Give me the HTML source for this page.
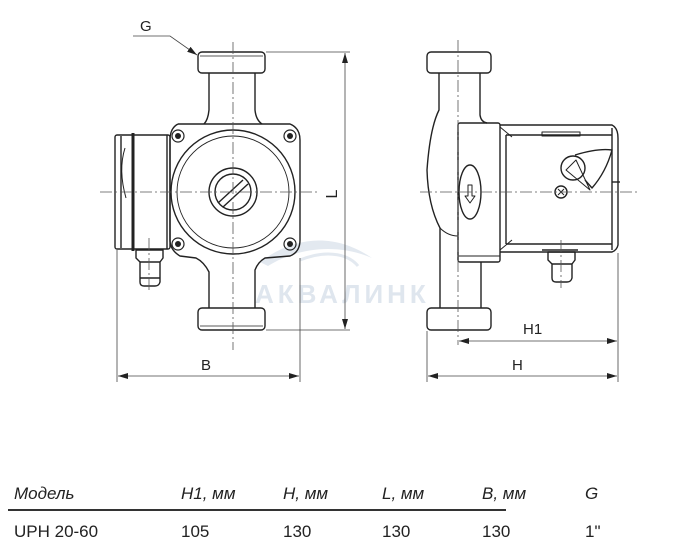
<!DOCTYPE html>
<html><head><meta charset="utf-8"><style>
html,body{margin:0;padding:0;background:#fff;}
svg{display:block;}
text{font-family:"Liberation Sans","DejaVu Sans",sans-serif;}
</style></head><body>
<svg width="700" height="548" viewBox="0 0 700 548" xmlns="http://www.w3.org/2000/svg">
<defs>
<marker id="a" viewBox="0 0 10 6" refX="10" refY="3" markerWidth="10" markerHeight="6" orient="auto-start-reverse" markerUnits="userSpaceOnUse"><path d="M0,0 L10,3 L0,6 Z" fill="#222"/></marker>
</defs>
<!-- watermark -->
<path d="M260,262 C300,232 340,236 372,258 C340,244 300,246 268,266 Z" fill="#e3e9f0"/>
<path d="M300,260 C330,248 350,256 358,266" fill="none" stroke="#e3e9f0" stroke-width="3"/>
<text x="255" y="303" font-size="26" font-weight="bold" fill="#dfe6ee" letter-spacing="4">АКВАЛИНК</text>

<g fill="none" stroke="#222" stroke-width="1.4" stroke-linejoin="round">
<!-- LEFT VIEW -->
<rect x="198" y="52" width="67" height="21" rx="4"/>
<line x1="200" y1="56" x2="263" y2="56" stroke-width="0.8"/>
<path d="M209,73 L209,110 Q208,120 204,124 M255,73 L255,110 Q256,120 262,124"/>
<path d="M178,124 L290,124 Q300,128 300,140 L300,240 Q300,252 290,256 L265,258 Q258,262 255,270 L255,308"/>
<path d="M178,124 Q170,128 170,140 L170,240 Q170,250 180,256 L196,258 Q204,262 209,272 L209,308"/>
<circle cx="233" cy="192" r="62"/>
<circle cx="233" cy="192" r="56" stroke-width="0.9"/>
<circle cx="233" cy="192" r="24"/>
<circle cx="233" cy="192" r="18"/>
<line x1="218" y1="203" x2="243" y2="180"/><line x1="223" y1="207" x2="248" y2="184"/>
<g stroke-width="1.2"><circle cx="178" cy="136" r="6"/><circle cx="290" cy="136" r="6"/><circle cx="178" cy="244" r="6"/><circle cx="290" cy="244" r="6"/></g>
<g fill="#222" stroke="none"><circle cx="178" cy="136" r="3"/><circle cx="290" cy="136" r="3"/><circle cx="178" cy="244" r="3"/><circle cx="290" cy="244" r="3"/></g>
<rect x="198" y="308" width="67" height="22" rx="4"/>
<line x1="200" y1="326" x2="263" y2="326" stroke-width="0.8"/>
<!-- terminal box -->
<rect x="115" y="135" width="55" height="114" rx="2"/>
<line x1="121" y1="136" x2="121" y2="248"/>
<line x1="133" y1="133" x2="133" y2="251" stroke-width="3"/>
<line x1="167" y1="135" x2="167" y2="249"/>
<path d="M125,148 Q118,170 126,198" stroke-width="1"/>
<path d="M136,250 L163,250 L163,258 L160,262 L160,282 Q159,286 155,286 L144,286 Q140,286 140,282 L140,262 L136,258 Z"/>
<line x1="140" y1="262" x2="160" y2="262"/><line x1="140" y1="278" x2="160" y2="278"/>

<!-- RIGHT VIEW -->
<rect x="427" y="52" width="64" height="21" rx="4"/>
<path d="M439,73 L439,110 Q430,128 427,170 Q428,205 440,228 L440,308 M480,73 L480,115 Q481,122 487,123"/>
<path d="M440,228 Q448,236 458,236" stroke-width="1"/>
<line x1="481" y1="262" x2="481" y2="308"/>
<rect x="458" y="123" width="42" height="139" rx="2"/>
<line x1="458" y1="256" x2="500" y2="256" stroke-width="1"/>
<ellipse cx="470" cy="192" rx="11" ry="27"/>
<path d="M468,185 L468,196 L465,196 L470,203 L475,196 L472,196 L472,185 Z" stroke-width="1"/>
<path d="M500,125 L612,125 Q618,128 618,138 L618,245 Q617,250 612,252 L500,252"/>
<line x1="506" y1="135" x2="506" y2="244"/>
<line x1="506" y1="135" x2="612" y2="135"/><line x1="506" y1="244" x2="612" y2="244"/>
<line x1="612" y1="128" x2="612" y2="250"/>
<path d="M500,127 L512,137 M500,250 L512,240" stroke-width="1"/>
<rect x="542" y="132" width="38" height="4" stroke-width="1"/>
<circle cx="573" cy="168" r="12"/>
<path d="M575,155 Q598,148 612,150 Q606,172 592,188 L585,180" />
<path d="M566,170 L576,160 L590,190 Z" stroke-width="1"/>
<line x1="612" y1="182" x2="620" y2="182"/>
<circle cx="561" cy="192" r="6"/>
<path d="M558,189 L564,195 M564,189 L558,195" stroke-width="1"/>
<line x1="542" y1="250" x2="578" y2="250"/>
<path d="M548,252 L575,252 L575,260 L572,264 L572,278 Q571,282 567,282 L556,282 Q552,282 552,278 L552,264 L548,260 Z"/>
<line x1="552" y1="264" x2="572" y2="264"/>
<rect x="427" y="308" width="64" height="22" rx="4"/>
</g>

<!-- centerlines -->
<g stroke="#555" stroke-width="0.8" stroke-dasharray="12,3,2,3" fill="none">
<line x1="100" y1="192" x2="320" y2="192"/>
<line x1="233" y1="42" x2="233" y2="350"/>
<line x1="420" y1="192" x2="640" y2="192"/>
<line x1="458" y1="40" x2="458" y2="345"/>
<line x1="149" y1="238" x2="149" y2="290"/>
<line x1="561" y1="240" x2="561" y2="288"/>
</g>

<!-- dimensions -->
<g stroke="#444" stroke-width="0.8" fill="none">
<line x1="266" y1="52" x2="350" y2="52"/>
<line x1="266" y1="330" x2="350" y2="330"/>
<line x1="345" y1="53" x2="345" y2="329" marker-start="url(#a)" marker-end="url(#a)"/>
<line x1="117" y1="250" x2="117" y2="382"/>
<line x1="300" y1="258" x2="300" y2="382"/>
<line x1="118" y1="376" x2="299" y2="376" marker-start="url(#a)" marker-end="url(#a)"/>
<line x1="427" y1="331" x2="427" y2="382"/>
<line x1="618" y1="253" x2="618" y2="382"/>
<line x1="459" y1="341" x2="617" y2="341" marker-start="url(#a)" marker-end="url(#a)"/>
<line x1="428" y1="376" x2="617" y2="376" marker-start="url(#a)" marker-end="url(#a)"/>
<polyline points="133,36 170,36 197,55" marker-end="url(#a)"/>
</g>
<g fill="#222" font-size="15">
<text x="140" y="31">G</text>
<text x="201" y="370">B</text>
<text x="512" y="370">H</text>
<text x="523" y="334">H1</text>
<text x="0" y="0" font-size="16" transform="translate(337,194) rotate(-90)" text-anchor="middle">L</text>
</g>

<!-- table -->
<g font-size="17" fill="#222">
<g font-style="italic">
<text x="14" y="499">Модель</text>
<text x="181" y="499">H1, мм</text>
<text x="283" y="499">H, мм</text>
<text x="382" y="499">L, мм</text>
<text x="482" y="499">B, мм</text>
<text x="585" y="499">G</text>
</g>
<line x1="8" y1="510" x2="506" y2="510" stroke="#333" stroke-width="2"/>
<text x="14" y="537">UPH 20-60</text>
<text x="181" y="537">105</text>
<text x="283" y="537">130</text>
<text x="382" y="537">130</text>
<text x="482" y="537">130</text>
<text x="585" y="537">1"</text>
</g>
</svg>
</body></html>
